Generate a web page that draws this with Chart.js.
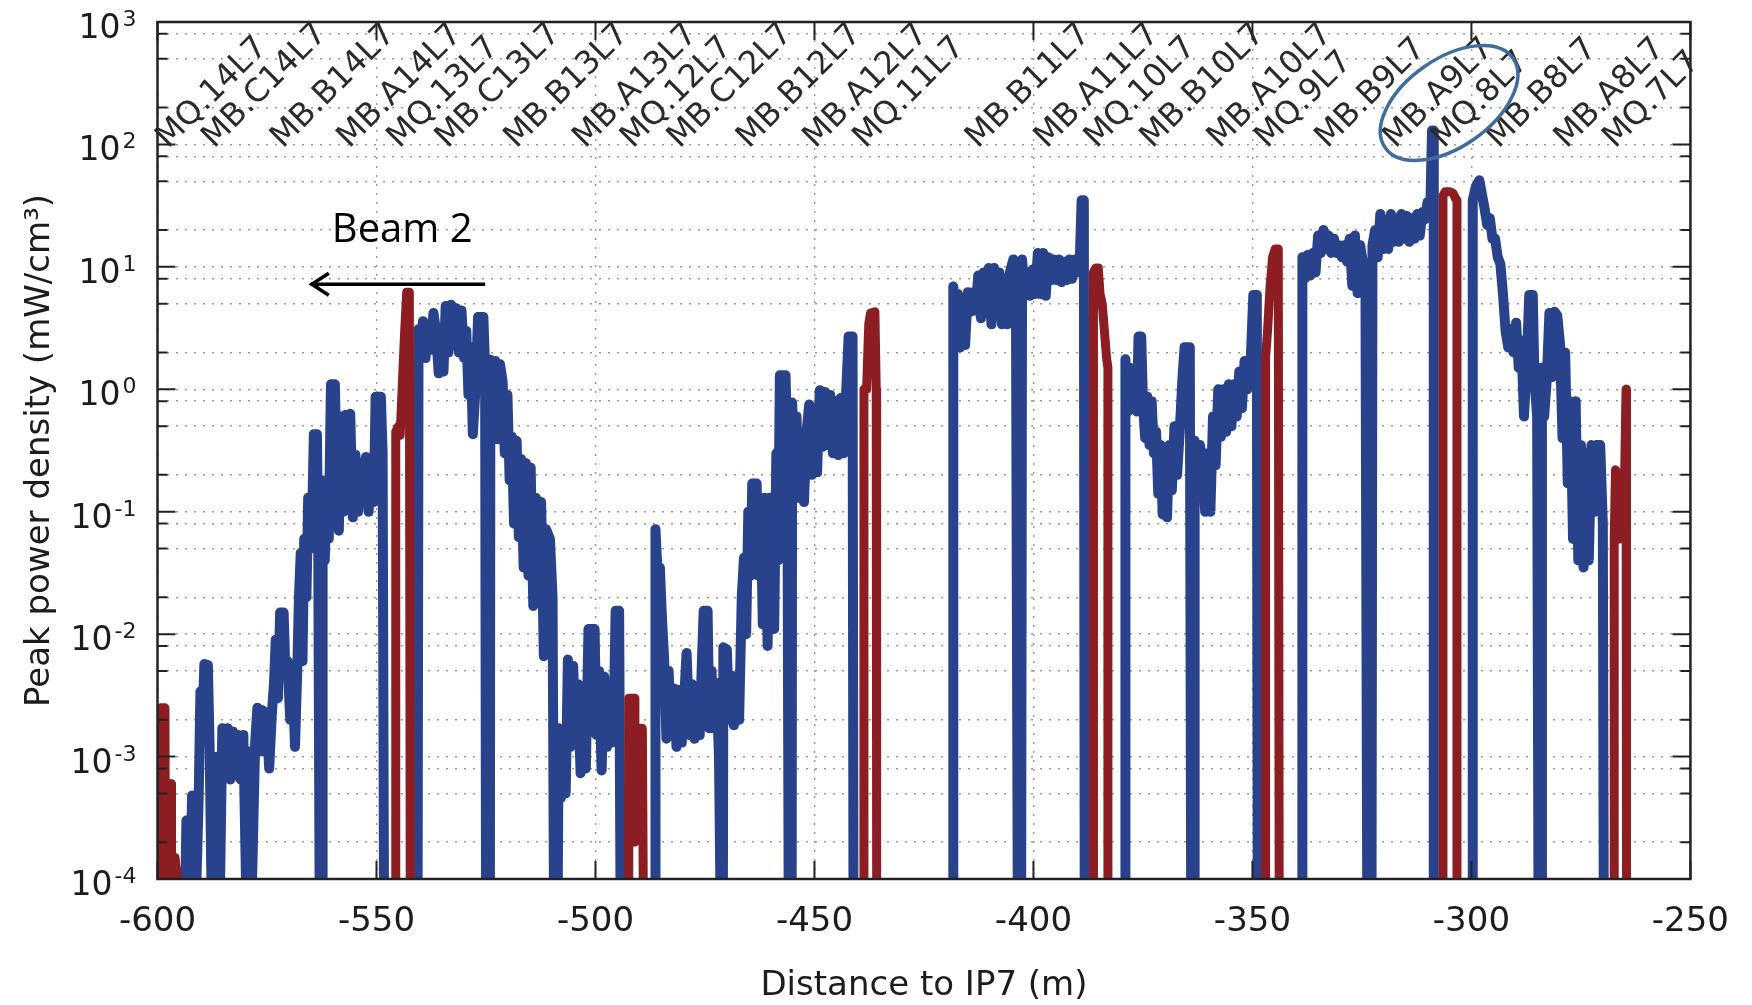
<!DOCTYPE html>
<html>
<head>
<meta charset="utf-8">
<script src="https://cdn.jsdelivr.net/npm/chart.js@4.4.1/dist/chart.umd.min.js"></script>
<style>
  html, body { margin: 0; padding: 0; background: #fff; }
  #wrap { width: 1752px; height: 1005px; }
</style>
</head>
<body>
<div id="wrap"><canvas id="chart" width="1752" height="1005"></canvas></div>
<script>
// axis ticks
const xTicks = [-600, -550, -500, -450, -400, -350, -300, -250];
const yDecades = [-4, -3, -2, -1, 0, 1, 2, 3];
const yMinorSteps = [2, 5, 8];

// magnet names and where their label starts (m)
const magnetNames = ['MQ.14L7', 'MB.C14L7', 'MB.B14L7', 'MB.A14L7', 'MQ.13L7', 'MB.C13L7', 'MB.B13L7',
  'MB.A13L7', 'MQ.12L7', 'MB.C12L7', 'MB.B12L7', 'MB.A12L7', 'MQ.11L7', 'MB.B11L7', 'MB.A11L7',
  'MQ.10L7', 'MB.B10L7', 'MB.A10L7', 'MQ.9L7', 'MB.B9L7', 'MB.A9L7', 'MQ.8L7', 'MB.B8L7', 'MB.A8L7', 'MQ.7L7'];
const magnetPos = [-597.6, -587.1, -571.4, -556.2, -544.8, -533.8, -518.1,
  -502.4, -491.5, -480.8, -465.0, -449.8, -438.4, -412.7, -397.0,
  -385.6, -372.9, -357.5, -346.7, -332.9, -317.4, -306.3, -293.8, -278.3, -267.2];

// beam screen trace, [distance m, peak power mW/cm3], null = gap
const blueTrace = [
  [-593.6,1e-4],[-593.4,3e-4],[-592.9,2e-4],[-592.5,1e-4],[-592.1,4.8e-4],[-591.6,3e-4],[-591.1,1e-4],[-590.6,4.5e-4],
  [-590.2,3.4e-3],[-589.8,1.5e-3],[-589.3,5.7e-3],[-588.5,5.6e-3],[-588.1,1.2e-3],[-587.7,1e-4],[-587.2,1e-3],[-586.7,1e-4],
  [-586.2,1e-3],[-585.7,1e-4],[-585.2,1.7e-3],[-584.6,8e-4],[-584.0,1.7e-3],[-583.4,6.5e-4],[-582.8,1.6e-3],[-582.2,7e-4],
  [-581.6,1.5e-3],[-581.0,6.5e-4],[-580.4,1.5e-3],[-579.8,1e-4],[-579.1,1.1e-3],[-578.4,1e-4],[-577.7,1.3e-3],
  [-577.2,2.5e-3],[-576.7,1.1e-3],[-576.2,2.4e-3],[-575.7,1.1e-3],[-575.1,2.3e-3],[-574.5,8e-4],[-573.9,2.2e-3],[-573.4,4e-3],
  [-573.0,9e-3],[-572.5,3e-3],[-572.0,0.015],[-571.2,0.015],[-570.8,5e-3],[-570.3,6e-3],[-569.7,2e-3],[-569.2,5e-3],
  [-568.6,1.2e-3],[-568.1,5e-3],[-567.7,0.02],[-567.3,0.046],[-566.9,6e-3],[-566.5,0.06],[-566.0,0.02],[-565.6,0.13],
  [-565.1,0.05],[-564.6,0.13],[-564.3,0.43],[-563.6,0.43],[-563.3,0.05],[-563.0,1e-4],[-562.4,1e-4],[-562.3,0.18],
  [-561.8,0.04],[-561.4,0.15],[-560.9,0.06],[-560.4,1.1],[-559.5,1.1],[-559.1,0.2],[-558.6,0.07],[-558.1,0.6],
  [-557.5,0.1],[-557.0,0.62],[-556.4,0.15],[-556.0,0.63],[-555.4,0.09],[-554.8,0.29],[-554.2,0.1],[-553.6,0.25],
  [-553.0,0.12],[-552.4,0.28],[-551.8,0.1],[-551.2,0.25],[-550.6,0.12],[-550.2,0.87],[-549.0,0.87],[-548.6,0.3],
  [-548.3,1e-4],[-548.3,null],
  [-540.6,1e-4],[-540.4,3.1],[-539.9,1.9],[-539.4,3.6],[-538.8,1.8],[-538.2,3.4],[-537.6,2.1],[-537.0,4.2],
  [-536.4,3.0],[-535.8,1.35],[-535.2,2.5],[-534.7,1.4],[-534.2,4.8],[-533.6,2.0],[-533.0,4.9],[-532.4,2.3],
  [-531.8,4.6],[-531.2,2.0],[-530.6,4.4],[-530.0,1.8],[-529.5,3.0],[-529.0,0.9],[-528.5,2.2],[-528.0,0.43],
  [-527.4,1.0],[-526.8,3.9],[-525.6,3.9],[-525.2,1.5],[-525.0,1e-4],[-524.1,1e-4],[-524.0,1.74],
  [-523.4,0.5],[-522.9,1.7],[-522.3,0.39],[-521.8,1.6],[-521.2,1.15],[-520.7,0.3],[-520.1,0.9],[-519.6,0.18],
  [-519.1,0.41],[-518.6,0.08],[-518.0,0.38],[-517.5,0.062],[-517.0,0.27],[-516.4,0.035],[-515.9,0.25],[-515.3,0.03],
  [-514.8,0.23],[-514.2,0.017],[-513.6,0.13],[-513.0,0.02],[-512.4,0.12],[-511.8,6.6e-3],[-511.3,0.072],[-510.4,0.06],
  [-509.8,0.02],[-509.5,1e-4],[-508.6,1e-4],[-508.4,1.7e-3],
  [-507.9,4.6e-4],[-507.3,1.6e-3],[-506.8,5e-4],[-506.3,6.2e-3],[-505.7,1.2e-3],[-505.1,5.5e-3],[-504.5,1.3e-3],[-504.0,3.9e-3],
  [-503.4,7.3e-4],[-502.8,3.5e-3],[-502.2,8e-4],[-501.6,0.011],[-500.2,0.011],[-499.8,1.5e-3],[-499.2,5e-3],[-498.6,7.7e-4],
  [-498.0,4.5e-3],[-497.4,1.2e-3],[-496.9,2.5e-3],[-496.3,1.3e-3],[-495.8,2.4e-3],[-495.4,0.0155],[-494.6,0.0155],[-494.3,1e-4],
  [-494.3,null],
  [-486.4,1e-4],[-486.3,0.072],[-485.8,0.03],[-485.3,0.035],[-484.8,0.013],[-484.3,6e-3],[-483.8,1.4e-3],[-483.3,5e-3],
  [-482.7,1.5e-3],[-482.1,3.6e-3],[-481.5,1.2e-3],[-480.9,3.5e-3],[-480.3,1.3e-3],[-479.7,3.2e-3],[-479.2,7e-3],[-478.5,1.5e-3],
  [-478.0,3.9e-3],[-477.4,1.4e-3],[-476.8,3.5e-3],[-476.2,1.5e-3],[-475.7,6e-3],[-475.3,0.0155],[-474.4,0.0155],[-474.0,1.7e-3],
  [-473.5,5e-3],[-473.0,1.7e-3],[-472.4,4e-3],[-471.8,1e-3],[-471.5,1e-4],[-470.9,1e-4],[-470.8,7.8e-3],
  [-470.0,7.5e-3],[-469.5,2e-3],[-469.0,4.6e-3],[-468.4,1.8e-3],[-467.8,4.5e-3],[-467.2,2e-3],[-466.6,0.02],[-466.1,0.042],
  [-465.6,0.01],[-465.1,0.1],[-464.6,0.03],[-464.2,0.17],[-463.2,0.17],[-462.8,0.03],[-462.3,0.13],[-461.8,0.012],
  [-461.3,0.13],[-460.7,8e-3],[-460.2,0.13],[-459.7,0.05],[-459.2,0.011],[-458.7,0.3],[-458.3,0.04],[-457.9,1.3],
  [-456.6,1.3],[-456.2,0.3],[-455.9,1e-4],[-455.2,1e-4],[-455.1,0.78],
  [-454.6,0.3],[-454.1,0.6],[-453.6,0.13],[-453.0,0.4],[-452.4,0.12],[-451.8,0.45],[-451.2,0.75],[-450.6,0.2],
  [-450.0,0.7],[-449.4,0.21],[-448.8,0.98],[-448.2,0.34],[-447.6,0.95],[-447.0,0.35],[-446.4,0.9],[-445.8,0.3],
  [-445.2,0.8],[-444.6,0.29],[-444.0,0.85],[-443.4,0.3],[-442.8,0.9],[-442.2,2.7],[-441.3,2.7],[-441.1,1e-4],
  [-441.1,null],
  [-418.3,1e-4],[-418.3,6.9],[-417.8,2.2],[-417.3,6.0],[-416.8,2.2],[-416.2,5.5],[-415.6,2.3],[-415.0,6.2],
  [-414.4,4.3],[-413.8,6.2],[-413.2,4.4],[-412.6,8.5],[-412.0,3.8],[-411.4,9.0],[-410.8,4.5],[-410.2,9.8],
  [-409.6,3.4],[-409.0,9.8],[-408.4,4.0],[-407.8,9.0],[-407.2,3.4],[-406.6,8.0],[-406.0,3.4],[-405.4,9.0],
  [-404.6,11.5],[-404.0,6.0],[-403.6,1e-4],[-402.8,1e-4],[-402.6,11.5],[-402.0,6.0],[-401.4,9.0],[-400.8,5.8],
  [-400.2,9.5],[-399.6,6.0],[-399.0,13],[-398.4,6.0],[-397.8,13],[-397.2,5.8],[-396.6,12],[-396.0,7.8],
  [-395.4,11.5],[-394.8,7.8],[-394.2,11.5],[-393.6,7.5],[-393.0,11],[-392.4,7.8],[-391.8,11.5],[-391.2,8.0],
  [-390.6,11.5],[-390.0,9.0],[-389.4,12],[-389.0,35],[-388.5,35],[-388.3,1e-4],
  [-388.3,null],
  [-379.0,1e-4],[-379.0,1.76],[-378.5,0.66],[-378.0,1.5],[-377.5,0.7],[-377.0,1.4],[-376.4,0.66],[-376.0,2.7],
  [-375.4,2.7],[-375.0,0.8],[-374.5,0.4],[-374.0,0.87],[-373.5,0.35],[-373.0,0.8],[-372.5,0.3],[-372.0,0.45],
  [-371.5,0.14],[-371.0,0.35],[-370.5,0.095],[-370.0,0.25],[-369.5,0.09],[-369.0,0.35],[-368.4,0.15],[-367.8,0.5],
  [-367.2,0.2],[-366.6,0.45],[-366.0,1.2],[-365.5,2.2],[-364.3,2.2],[-364.0,1e-4],[-363.3,1e-4],[-363.2,0.38],
  [-362.6,0.17],[-362.0,0.35],[-361.4,0.26],[-360.8,0.1],[-360.2,0.3],[-359.6,0.1],[-359.0,0.6],[-358.4,0.24],
  [-357.8,1.0],[-357.2,0.41],[-356.6,1.0],[-356.0,0.45],[-355.4,1.1],[-354.8,0.5],[-354.2,1.1],[-353.6,0.6],
  [-353.0,1.4],[-352.4,0.7],[-351.8,1.7],[-351.2,1.0],[-350.4,1.7],[-349.8,5.9],[-349.0,5.9],[-348.8,1e-4],
  [-348.8,null],
  [-338.6,1e-4],[-338.6,12],[-338.0,8.1],[-337.4,12.5],[-336.8,8.5],[-336.2,13],[-335.6,9.0],[-335.0,18],
  [-334.4,13],[-333.8,20],[-333.2,14],[-332.6,18],[-332.0,13],[-331.4,17],[-330.8,13],[-330.2,15],
  [-329.6,12],[-329.0,15],[-328.4,11],[-327.8,17],[-327.2,7.0],[-326.6,18],[-326.0,6.1],[-325.4,15],
  [-324.2,8.0],[-323.8,1e-4],[-322.8,1e-4],[-322.6,15],[-322.0,20],[-321.4,12],[-320.8,27],[-320.2,14],
  [-319.6,24],[-319.0,14],[-318.4,27],[-317.8,16],[-317.2,25],[-316.6,16],[-316.0,27],[-315.4,17],
  [-314.8,26],[-314.2,16],[-313.6,25],[-313.0,17],[-312.4,27],[-311.8,18],[-311.2,28],[-310.6,24.5],
  [-310.0,34],[-309.4,28],[-309.0,130],[-308.6,130],[-308.6,1e-4],
  [-308.6,null],
  [-299.7,1e-4],[-299.7,35],[-299.0,45],[-298.2,51],[-297.6,39],[-297.0,30],[-296.4,22],[-295.8,25],
  [-295.2,17],[-294.6,17],[-294.0,12],[-293.4,10.6],[-292.8,6.0],[-292.2,3.0],[-291.6,2.2],[-291.0,3.1],
  [-290.4,2.0],[-289.8,3.5],[-289.2,1.5],[-288.6,2.5],[-288.0,0.6],[-287.4,1.5],[-286.8,5.9],[-286.0,5.9],
  [-285.6,1.2],[-285.0,0.6],[-284.7,1e-4],[-284.0,1e-4],[-283.9,1.5],[-283.4,0.6],[-282.8,1.2],[-282.2,4.2],
  [-281.6,1.26],[-281.0,4.3],[-280.4,4.0],[-279.8,2.4],[-279.2,0.4],[-278.6,2.0],[-278.0,0.17],[-277.4,0.8],
  [-276.8,0.06],[-276.2,0.8],[-275.6,0.04],[-275.0,0.35],[-274.4,0.035],[-273.8,0.3],[-273.2,0.04],[-272.6,0.35],
  [-272.0,0.1],[-271.4,0.35],[-270.6,0.35],[-270.0,0.08],[-269.8,1e-4]
];

// interconnect trace
const redTrace = [
  [-599.2,1e-4],[-599.2,2.5e-3],[-598.3,2.5e-3],[-598.2,1e-4],[-597.4,1e-4],[-597.3,6e-4],[-596.9,6e-4],[-596.8,1e-4],
  [-596.1,1e-4],[-596.0,1.5e-4],[-595.7,1.2e-4],[-595.6,1e-4],[-595.6,null],
  [-545.6,1e-4],[-545.6,0.45],[-545.0,0.5],[-544.6,0.42],[-544.1,1.1],[-543.6,2.8],[-543.1,6.2],[-542.5,6.2],[-542.3,1e-4],
  [-542.3,null],
  [-492.4,1e-4],[-492.4,3e-3],[-491.2,3e-3],[-491.0,2e-4],[-490.7,1.7e-3],[-489.3,1.7e-3],[-489.1,1e-4],[-489.1,null],
  [-438.7,1e-4],[-438.7,1.0],[-438.1,1.0],[-437.6,3.4],[-437.2,4.2],[-436.2,4.3],[-435.9,1.0],[-435.8,1e-4],[-435.8,null],
  [-386.3,1e-4],[-386.3,9.0],[-385.8,9.8],[-385.2,9.8],[-384.8,6.0],[-384.3,5.0],[-383.8,3.0],[-383.3,1.8],[-383.0,1.5],
  [-383.0,1e-4],[-383.0,null],
  [-347.0,1e-4],[-347.0,1.8],[-346.5,3.2],[-346.0,6.7],[-345.4,12],[-344.8,14],[-344.1,14],[-343.9,1e-4],[-343.9,null],
  [-306.5,1e-4],[-306.5,38],[-306.0,41],[-305.0,41],[-304.2,40],[-303.6,36],[-303.3,35],[-303.3,1e-4],[-303.3,null],
  [-267.4,1e-4],[-267.4,0.06],[-267.1,0.22],[-266.5,0.2],[-266.0,0.06],[-265.5,0.2],[-265.0,0.22],[-264.7,1.0],
  [-264.6,1.0],[-264.6,1e-4]
];

const yTickVals = [];
yDecades.forEach(n => {
  yTickVals.push(Math.pow(10, n));
  if (n < 3) yMinorSteps.forEach(m => yTickVals.push(Number((m * Math.pow(10, n)).toPrecision(2))));
});

const toPoints = arr => arr.map(p => ({ x: p[0], y: p[1] }));
const textColor = '#1c1c1c';
const font = '"DejaVu Sans", sans-serif';

// box around the plot with inward tick marks
const framePlugin = {
  id: 'frame',
  afterDatasetsDraw(chart) {
    const { ctx, chartArea: a, scales: { x, y } } = chart;
    ctx.save();
    ctx.strokeStyle = '#222';
    ctx.lineWidth = 2;
    ctx.beginPath();
    yTickVals.forEach(v => {
      const py = y.getPixelForValue(v);
      const len = yDecades.some(n => Math.abs(Math.pow(10, n) - v) < 1e-12) ? 18 : 10;
      ctx.moveTo(a.left, py); ctx.lineTo(a.left + len, py);
      ctx.moveTo(a.right, py); ctx.lineTo(a.right - len, py);
    });
    xTicks.forEach(v => {
      const px = x.getPixelForValue(v);
      ctx.moveTo(px, a.bottom); ctx.lineTo(px, a.bottom - 18);
      ctx.moveTo(px, a.top); ctx.lineTo(px, a.top + 18);
    });
    ctx.stroke();
    ctx.lineWidth = 2.5;
    ctx.strokeRect(a.left, a.top, a.right - a.left, a.bottom - a.top);
    ctx.restore();
  }
};

// y labels with exponents, magnet names, beam arrow and highlight ellipse
const notesPlugin = {
  id: 'notes',
  afterDraw(chart) {
    const { ctx, chartArea: a, scales: { x, y } } = chart;
    ctx.save();
    ctx.fillStyle = textColor;
    ctx.textAlign = 'right';
    ctx.textBaseline = 'alphabetic';
    yDecades.forEach(n => {
      const py = y.getPixelForValue(Math.pow(10, n));
      const exp = String(n);
      ctx.font = '22px ' + font;
      const ew = ctx.measureText(exp).width;
      ctx.fillText(exp, a.left - 21, py + 4);
      ctx.font = '33px ' + font;
      ctx.fillText('10', a.left - 23 - ew, py + 16);
    });

    ctx.font = '32px ' + font;
    ctx.fillStyle = '#2a2a2a';
    ctx.textAlign = 'left';
    magnetNames.forEach((name, i) => {
      ctx.save();
      ctx.translate(x.getPixelForValue(magnetPos[i]), a.top + 127);
      ctx.rotate(-Math.PI / 4);
      ctx.fillText(name, 0, 0);
      ctx.restore();
    });

    // Beam 2 arrow
    const ay = y.getPixelForValue(7.2);
    const ax0 = x.getPixelForValue(-525.2), ax1 = x.getPixelForValue(-565);
    ctx.strokeStyle = '#000';
    ctx.lineWidth = 3.5;
    ctx.beginPath();
    ctx.moveTo(ax0, ay); ctx.lineTo(ax1, ay);
    ctx.stroke();
    ctx.beginPath();
    ctx.moveTo(ax1 + 18, ay - 11); ctx.lineTo(ax1 + 1, ay); ctx.lineTo(ax1 + 18, ay + 11);
    ctx.stroke();
    ctx.fillStyle = '#000';
    ctx.font = '40px "Open Sans", sans-serif';
    ctx.fillText('Beam 2', x.getPixelForValue(-560.2), y.getPixelForValue(16));

    // highlight around MB.A9L7 / MQ.8L7
    ctx.strokeStyle = '#3f6d9e';
    ctx.lineWidth = 3.5;
    ctx.beginPath();
    ctx.ellipse(x.getPixelForValue(-305.1), y.getPixelForValue(218), 78, 44, -35 * Math.PI / 180, 0, 2 * Math.PI);
    ctx.stroke();
    ctx.restore();
  }
};

const gridStyle = { color: '#9a9a9a', lineWidth: 1.4, drawTicks: false };

new Chart(document.getElementById('chart'), {
  type: 'line',
  data: {
    datasets: [
      {
        label: 'Interconnects',
        data: toPoints(redTrace),
        borderColor: '#8c1e23',
        borderWidth: 9
      },
      {
        label: 'Beam screen',
        data: toPoints(blueTrace),
        borderColor: '#28428c',
        borderWidth: 10
      }
    ]
  },
  options: {
    responsive: false,
    animation: false,
    events: [],
    spanGaps: false,
    layout: { padding: { left: 0, right: 58, top: 22, bottom: 0 } },
    elements: {
      point: { radius: 0 },
      line: { tension: 0, borderJoinStyle: 'round', borderCapStyle: 'butt', fill: false }
    },
    plugins: {
      legend: { display: false },
      tooltip: { enabled: false }
    },
    scales: {
      x: {
        type: 'linear',
        min: -600,
        max: -250,
        afterBuildTicks: s => { s.ticks = xTicks.map(v => ({ value: v })); },
        afterFit: s => { s.height = 126; },
        ticks: { color: textColor, font: { family: font, size: 34 }, padding: 23, maxRotation: 0, autoSkip: false },
        grid: gridStyle,
        border: { display: false, dash: [2, 7] },
        title: {
          display: true,
          text: 'Distance to IP7 (m)',
          color: textColor,
          font: { family: font, size: 34, lineHeight: 1.1 },
          padding: { top: 0, bottom: 0 }
        }
      },
      y: {
        type: 'logarithmic',
        min: 1e-4,
        max: 1e3,
        afterBuildTicks: s => { s.ticks = yTickVals.map(v => ({ value: v })); },
        afterFit: s => { s.width = 157.5; },
        ticks: { display: false },
        grid: gridStyle,
        border: { display: false, dash: [2, 7] },
        title: {
          display: true,
          text: 'Peak power density (mW/cm³)',
          color: textColor,
          font: { family: font, size: 34 },
          padding: { top: 20, bottom: 0 }
        }
      }
    }
  },
  plugins: [framePlugin, notesPlugin]
});
</script>
</body>
</html>
